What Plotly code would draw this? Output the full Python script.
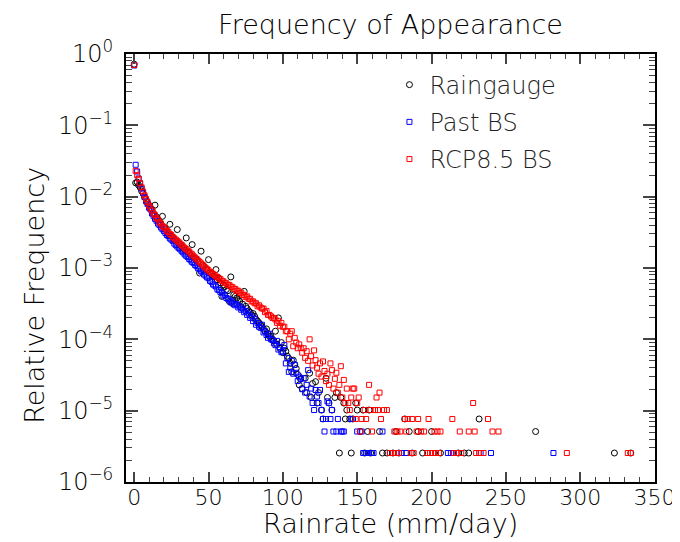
import plotly.graph_objects as go

# Raingauge (black circles)
rg_x = [0, 1, 2, 3, 4, 5, 6, 7, 8, 9, 10, 11, 12, 13, 14, 15, 16, 17, 18, 19,
        20, 21, 22, 23, 24, 25, 26, 27, 28, 29, 30, 31, 32, 33, 34, 35, 36, 37, 38, 39,
        40, 41, 42, 43, 44, 45, 46, 47, 48, 49, 50, 51, 52, 53, 54, 55, 56, 57, 58, 59,
        60, 61, 62, 63, 64, 65, 66, 67, 68, 69, 70, 71, 72, 73, 74, 75, 76, 77, 78, 79,
        80, 81, 82, 83, 84, 85, 86, 87, 88, 89, 90, 91, 92, 93, 94, 95, 96, 97, 98, 99,
        100, 101, 102, 103, 104, 105, 106, 107, 108, 109, 110, 111, 112, 113, 115, 116, 118, 119, 120, 122,
        123, 124, 126, 127, 129, 130, 131, 133, 135, 136, 138, 139, 141, 142, 143, 145, 146, 147, 149, 150,
        152, 154, 155, 157, 158, 159, 165, 167, 170, 174, 176, 178, 182, 185, 187, 191, 194, 200, 206, 218,
        222, 225, 232, 270, 323, 334]
rg_y = [0.72, 0.0156, 0.016, 0.0145, 0.0135, 0.012, 0.0112, 0.0098, 0.0092, 0.0082,
        0.0075, 0.0068, 0.0066, 0.0058, 0.0076, 0.0052, 0.0048, 0.0045, 0.0041, 0.0053,
        0.0037, 0.0035, 0.0033, 0.003, 0.0041, 0.0028, 0.0027, 0.0025, 0.0024, 0.00346,
        0.0022, 0.0021, 0.002, 0.0019, 0.0018, 0.00264, 0.0017, 0.0016, 0.0015, 0.00213,
        0.0014, 0.00135, 0.0013, 0.0012, 0.00085, 0.00172, 0.0011, 0.00105, 0.00098, 0.00093,
        0.00131, 0.00085, 0.00082, 0.00078, 0.00075, 0.00095, 0.00068, 0.00072, 0.00062, 0.0004,
        0.00058, 0.00055, 0.0005, 0.00048, 0.00034, 0.00075, 0.00032, 0.00042, 0.0004, 0.00038,
        0.00036, 0.00034, 0.00028, 0.00031, 0.00047, 0.00029, 0.00027, 0.00025, 0.00024, 0.00022,
        0.00023, 0.00021, 0.00019, 0.00018, 0.00017, 0.00016, 0.00015, 0.00014, 0.00013, 0.00014,
        0.00012, 0.00011, 0.00011, 0.0001, 9.5e-5, 0.00013, 8.5e-5, 0.0002, 7.5e-5, 9e-5,
        6.5e-5, 7.5e-5, 6.8e-5, 5.8e-5, 5.4e-5, 4.6e-5, 3.5e-5, 5.1e-5, 4.4e-5, 3.9e-5,
        3.2e-5, 2.3e-5, 2.8e-5, 2.04e-5, 2.85e-5, 1.79e-5, 3.35e-5, 1.53e-5, 2.4e-5, 2.55e-5,
        1.28e-5, 1.79e-5, 1.02e-5, 7.65e-6, 2.85e-5, 1.53e-5, 1.28e-5, 1.02e-5, 1.53e-5, 1.79e-5,
        2.55e-6, 1.53e-5, 1.28e-5, 7.65e-6, 1.02e-5, 7.65e-6, 2.55e-6, 7.65e-6, 1.28e-5, 1.02e-5,
        5.1e-6, 1.02e-5, 2.55e-6, 5.1e-6, 1.02e-5, 2.55e-6, 5.1e-6, 2.55e-6, 2.55e-6, 2.55e-6,
        5.1e-6, 2.55e-6, 7.65e-6, 5.1e-6, 2.55e-6, 5.1e-6, 2.55e-6, 5.1e-6, 2.55e-6, 2.55e-6,
        2.55e-6, 2.55e-6, 7.65e-6, 5.1e-6, 2.55e-6, 2.55e-6]

# Past BS (blue squares)
past_x = [0, 1, 2, 3, 4, 5, 6, 7, 8, 9, 10, 11, 12, 13, 14, 15, 16, 17, 18, 19,
          20, 21, 22, 23, 24, 25, 26, 27, 28, 29, 30, 31, 32, 33, 34, 35, 36, 37, 38, 39,
          40, 41, 42, 43, 44, 45, 46, 47, 48, 49, 50, 51, 52, 53, 54, 55, 56, 57, 58, 59,
          60, 61, 62, 63, 64, 65, 66, 67, 68, 69, 70, 71, 72, 73, 74, 75, 76, 77, 78, 79,
          80, 81, 82, 83, 84, 85, 86, 87, 88, 89, 90, 91, 92, 93, 94, 95, 96, 97, 98, 99,
          100, 101, 102, 103, 104, 105, 106, 107, 108, 109, 110, 111, 112, 113, 114, 115, 116, 117, 118, 119,
          120, 121, 122, 123, 124, 125, 126, 127, 128, 129, 130, 131, 132, 133, 134, 136, 137, 139, 140, 141,
          146, 147, 150, 153, 154, 156, 157, 158, 160, 161, 167, 172, 180, 183, 211, 213, 215, 233, 240, 282]
past_y = [0.69, 0.028, 0.0225, 0.018, 0.0152, 0.013, 0.0112, 0.0099, 0.0086, 0.0079,
          0.007, 0.0066, 0.0058, 0.0054, 0.0049, 0.0046, 0.0042, 0.004, 0.0037, 0.0035,
          0.0033, 0.0031, 0.0029, 0.0028, 0.0026, 0.0025, 0.0024, 0.0022, 0.0021, 0.002,
          0.0019, 0.00182, 0.00172, 0.00165, 0.00155, 0.00148, 0.00142, 0.00134, 0.00128, 0.00121,
          0.00117, 0.0011, 0.00106, 0.00099, 0.00096, 0.0009, 0.00087, 0.00081, 0.00078, 0.00074,
          0.00072, 0.00066, 0.00064, 0.00059, 0.00057, 0.00055, 0.0005, 0.00049, 0.00046, 0.00045,
          0.00041, 0.00042, 0.00038, 0.00037, 0.00036, 0.00033, 0.00034, 0.00031, 0.0003, 0.00031,
          0.00028, 0.00029, 0.00026, 0.00027, 0.00024, 0.00025, 0.00022, 0.00023, 0.0002, 0.00021,
          0.00018, 0.000195, 0.00016, 0.00017, 0.00015, 0.000145, 0.00016, 0.000125, 0.00013, 0.000115,
          0.000105, 0.00012, 0.0001, 9.8e-5, 8.8e-5, 8.3e-5, 9.5e-5, 7.2e-5, 7.8e-5, 6.6e-5,
          6.8e-5, 8.3e-5, 4.6e-5, 5.5e-5, 3.5e-5, 4.0e-5, 5.0e-5, 3.3e-5, 4.4e-5, 3.4e-5,
          2.6e-5, 3.0e-5, 2.8e-5, 2.0e-5, 2.85e-5, 1.79e-5, 2.3e-5, 3.7e-5, 1.58e-5, 2.04e-5,
          1.28e-5, 1.02e-5, 1.95e-5, 1.58e-5, 1.28e-5, 1.95e-5, 1.02e-5, 7.65e-6, 5.1e-6, 7.65e-6,
          1.35e-5, 1.28e-5, 7.65e-6, 1.02e-5, 5.1e-6, 5.1e-6, 7.65e-6, 5.1e-6, 5.1e-6, 5.1e-6,
          7.65e-6, 7.65e-6, 5.1e-6, 5.1e-6, 2.55e-6, 2.55e-6, 2.55e-6, 2.55e-6, 2.55e-6, 2.55e-6,
          5.1e-6, 2.55e-6, 2.55e-6, 2.55e-6, 2.55e-6, 2.55e-6, 2.55e-6, 2.55e-6, 2.55e-6, 2.55e-6]

# RCP8.5 BS (red squares)
rcp_x = [0, 1, 2, 3, 4, 5, 6, 7, 8, 9, 10, 11, 12, 13, 14, 15, 16, 17, 18, 19,
         20, 21, 22, 23, 24, 25, 26, 27, 28, 29, 30, 31, 32, 33, 34, 35, 36, 37, 38, 39,
         40, 41, 42, 43, 44, 45, 46, 47, 48, 49, 50, 51, 52, 53, 54, 55, 56, 57, 58, 59,
         60, 61, 62, 63, 64, 65, 66, 67, 68, 69, 70, 71, 72, 73, 74, 75, 76, 77, 78, 79,
         80, 81, 82, 83, 84, 85, 86, 87, 88, 89, 90, 91, 92, 93, 94, 95, 96, 97, 98, 99,
         100, 101, 102, 103, 104, 105, 106, 107, 108, 109, 110, 111, 112, 113, 114, 115, 116, 117, 118, 119,
         120, 121, 122, 123, 124, 125, 126, 127, 128, 129, 130, 131, 132, 133, 134, 135, 136, 137, 138, 139,
         140, 141, 142, 143, 144, 145, 146, 147, 148, 149, 150, 151, 152, 153, 155, 156, 158, 159, 160, 162,
         163, 164, 165, 166, 168, 170, 172, 174, 175, 176, 177, 178, 179, 182, 183, 184, 186, 187, 188, 190,
         191, 193, 195, 197, 198, 199, 201, 202, 203, 204, 205, 206, 214, 215, 217, 219, 220, 225, 228, 229,
         230, 232, 235, 238, 241, 245, 291, 332, 334]
rcp_y = [0.7, 0.023, 0.02, 0.0178, 0.0155, 0.0135, 0.0118, 0.0104, 0.0093, 0.0084,
         0.0075, 0.0069, 0.0064, 0.0058, 0.0055, 0.005, 0.0048, 0.0044, 0.0042, 0.0039,
         0.0037, 0.0036, 0.0033, 0.0032, 0.003, 0.0029, 0.0027, 0.0026, 0.0025, 0.0024,
         0.0023, 0.0022, 0.0021, 0.002, 0.0019, 0.00185, 0.00175, 0.0017, 0.0016, 0.00155,
         0.00146, 0.0014, 0.00134, 0.00127, 0.00122, 0.00116, 0.00111, 0.00105, 0.00101, 0.00096,
         0.00093, 0.00088, 0.00086, 0.00082, 0.0008, 0.00076, 0.00075, 0.00071, 0.0007, 0.00066,
         0.00065, 0.00062, 0.00061, 0.00058, 0.00058, 0.00055, 0.00054, 0.00051, 0.00051, 0.00048,
         0.00048, 0.00045, 0.00045, 0.00042, 0.00042, 0.00039, 0.0004, 0.00037, 0.00037, 0.00034,
         0.00034, 0.00032, 0.00032, 0.00029, 0.0003, 0.00028, 0.00027, 0.00027, 0.00024, 0.00025,
         0.00022, 0.00022, 0.00021, 0.0002, 0.0002, 0.00019, 0.00017, 0.00018, 0.000155, 0.00017,
         0.00015, 0.00015, 0.00013, 0.00013, 0.0001, 0.00012, 0.00013, 8e-5, 0.000105, 9e-5,
         7.5e-5, 8.5e-5, 7.6e-5, 6.5e-5, 7.5e-5, 5.5e-5, 6.8e-5, 5.0e-5, 0.0001, 5.8e-5,
         4.3e-5, 7.0e-5, 5.1e-5, 4.0e-5, 3.3e-5, 4.6e-5, 3.0e-5, 4.9e-5, 3.6e-5, 2.6e-5,
         3.3e-5, 2.3e-5, 4.6e-5, 3.7e-5, 2.04e-5, 2.8e-5, 3.4e-5, 1.79e-5, 2.3e-5, 4.2e-5,
         1.53e-5, 2.7e-5, 1.28e-5, 2.04e-5, 1.28e-5, 1.02e-5, 1.53e-5, 2.04e-5, 2.04e-5, 7.65e-6,
         1.28e-5, 1.53e-5, 5.1e-6, 7.65e-6, 1.02e-5, 7.65e-6, 2.3e-5, 1.02e-5, 5.1e-6, 1.02e-5,
         1.53e-5, 1.02e-5, 1.79e-5, 7.65e-6, 1.02e-5, 1.02e-5, 2.55e-6, 2.55e-6, 5.1e-6, 2.55e-6,
         5.1e-6, 2.55e-6, 5.1e-6, 7.65e-6, 5.1e-6, 7.65e-6, 2.55e-6, 7.65e-6, 2.55e-6, 5.1e-6,
         7.65e-6, 5.1e-6, 5.1e-6, 2.55e-6, 7.65e-6, 2.55e-6, 2.55e-6, 5.1e-6, 2.55e-6, 5.1e-6,
         2.55e-6, 5.1e-6, 7.65e-6, 2.55e-6, 2.55e-6, 5.1e-6, 2.55e-6, 5.1e-6, 1.28e-5, 5.1e-6,
         2.55e-6, 2.55e-6, 2.55e-6, 7.65e-6, 5.1e-6, 5.1e-6, 2.55e-6, 2.55e-6, 2.55e-6]

x_ticks = [0, 50, 100, 150, 200, 250, 300, 350]
x_ticktext = ["0", "50", "100", "150", "200", "250", "300", "350"]
y_ticks = [1e-6, 1e-5, 1e-4, 1e-3, 1e-2, 1e-1, 1e0]
y_ticktext = ["10<sup>−6</sup>", "10<sup>−5</sup>", "10<sup>−4</sup>", "10<sup>−3</sup>",
              "10<sup>−2</sup>", "10<sup>−1</sup>", "10<sup>0</sup>"]

# minor tick positions: 2..9 in every decade
y_minor = [m * d for d in y_ticks[:-1] for m in range(2, 10)]

FONT = "DejaVu Sans"

fig = go.Figure()
fig.add_trace(go.Scatter(x=rg_x, y=rg_y, mode="markers", name="Raingauge", legendgroup="a",
                         marker=dict(symbol="circle-open", size=6, color="black", line=dict(width=1))))
fig.add_trace(go.Scatter(x=past_x, y=past_y, mode="markers", name="Past BS", legendgroup="b",
                         marker=dict(symbol="square-open", size=5, color="blue", line=dict(width=1))))
fig.add_trace(go.Scatter(x=rcp_x, y=rcp_y, mode="markers", name="RCP8.5 BS", legendgroup="c",
                         marker=dict(symbol="square-open", size=5, color="red", line=dict(width=1))))

fig.update_layout(
    width=680, height=542,
    margin=dict(l=118, r=22, t=46, b=68),
    plot_bgcolor="white", paper_bgcolor="white",
    font=dict(family=FONT, size=22, color="black", weight=300),
    title=dict(text="Frequency of Appearance", x=0.5, xref="paper", y=0.97, yref="container",
               xanchor="center", yanchor="middle", font=dict(size=27, family=FONT, weight=300)),
    showlegend=True,
    legend=dict(x=0.498, y=0.98, xanchor="left", yanchor="top", bgcolor="rgba(0,0,0,0)",
                font=dict(size=24, color="#222", family=FONT, weight=300), tracegroupgap=3),
    annotations=[
        dict(text="Relative Frequency", xref="paper", yref="paper", x=-0.172, y=0.435,
             textangle=-90, showarrow=False, xanchor="center", yanchor="middle",
             font=dict(size=27, family=FONT, weight=300)),
        dict(text="Rainrate (mm/day)", xref="paper", yref="paper", x=0.5, y=-0.096,
             showarrow=False, xanchor="center", yanchor="middle",
             font=dict(size=27, family=FONT, weight=300)),
    ],
)

fig.update_xaxes(range=[-5.5, 350.3], tickvals=x_ticks, ticktext=x_ticktext, ticks="inside",
                 ticklen=10, tickwidth=1.5, ticklabelstandoff=-5,
                 minor=dict(ticks="inside", ticklen=5, dtick=10, tickwidth=1.2, showgrid=False),
                 showline=True, linewidth=2, linecolor="black", mirror="allticks",
                 showgrid=False, zeroline=False, tickfont=dict(size=22))
fig.update_yaxes(type="log", range=[-6, 0], tickvals=y_ticks, ticktext=y_ticktext,
                 ticks="inside", ticklen=12, tickwidth=1.5, ticklabelstandoff=6,
                 minor=dict(ticks="inside", ticklen=6, tickvals=y_minor, tickwidth=1.2, showgrid=False),
                 showline=True, linewidth=2, linecolor="black", mirror="allticks",
                 showgrid=False, zeroline=False, tickfont=dict(size=24))

fig.write_html("out.html")
